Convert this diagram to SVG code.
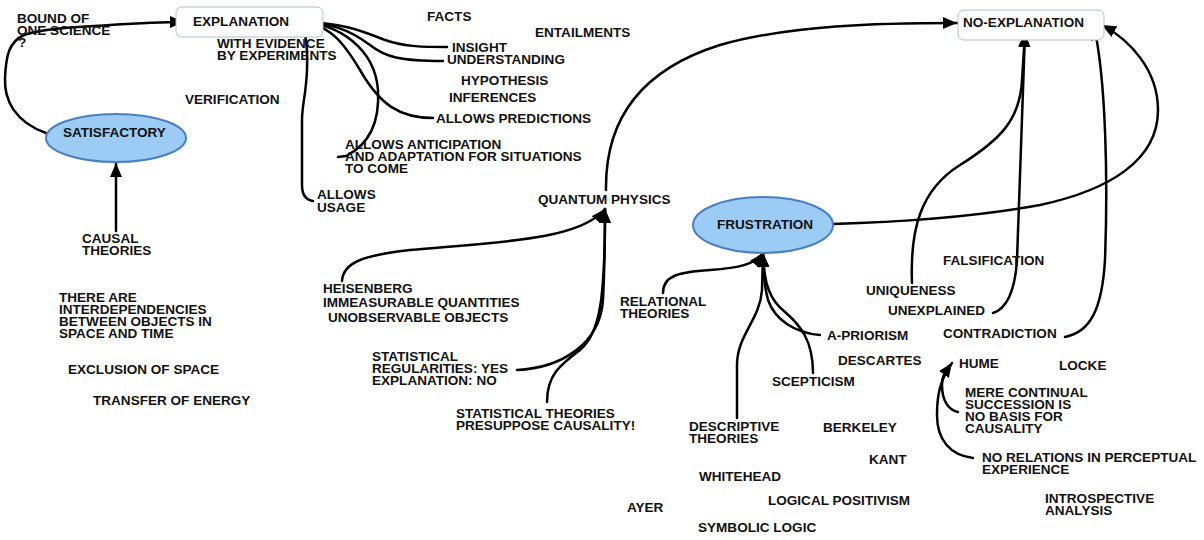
<svg xmlns="http://www.w3.org/2000/svg" width="1204" height="540" viewBox="0 0 1204 540">
<defs>
<style>
text{font-family:"Liberation Sans",Arial,sans-serif;font-weight:bold;font-size:12px;fill:#111;transform-box:fill-box;transform-origin:left center;transform:scaleX(1.13)}
.ell{fill:#9ccbf6;stroke:#4a80c2;stroke-width:2}
.box{fill:#fff;stroke:#a9c0d8;stroke-width:1}
.con{fill:none;stroke:#000;stroke-width:2.5;stroke-linecap:round}
.arr{marker-end:url(#ah)}
</style>
<marker id="ah" markerUnits="userSpaceOnUse" markerWidth="15" markerHeight="12" refX="14" refY="6" orient="auto">
<path d="M0,0 L14,6 L0,12 z" fill="#000"/>
</marker>
</defs>
<rect width="1204" height="540" fill="#fff"/>

<g id="connectors">
<path class="con arr" d="M46,133 C15,122 4,100 5,78 C6,55 9,42 24,35 C42,28 80,27 110,25 C140,23 160,22 184,22"/>
<path class="con arr" d="M116,231 L116,163"/>
<path class="con" d="M296,22 C340,22 360,30 385,40 C405,47 425,47 447,47"/>
<path class="con" d="M296,22 C330,22 350,30 370,45 C385,57 400,61 443,61"/>
<path class="con" d="M296,22 C330,22 345,45 360,70 C380,105 400,118 433,118"/>
<path class="con" d="M296,22 C340,22 375,50 378,90 C380,125 368,145 346,156 L338,157"/>
<path class="con" d="M296,22 C305,24 308,40 307,70 C306,95 302,105 302,120 L302,185 C302,195 306,200 313,201"/>
<path class="con arr" d="M606,190 C605,120 640,70 720,45 C790,25 880,23 957,23"/>
<path class="con arr" d="M342,281 C343,262 365,255 410,250 C500,242 580,240 605,209"/>
<path class="con arr" d="M517,370 C560,368 600,345 603,300 C605,260 605,230 605,209"/>
<path class="con arr" d="M547,402 C547,375 560,365 580,350 C600,333 605,300 605,209"/>
<path class="con arr" d="M663,293 C663,275 680,272 710,270 C740,268 755,264 763,253"/>
<path class="con arr" d="M737,418 L737,365 C737,335 760,320 762,290 L763,253"/>
<path class="con arr" d="M813,373 C813,340 800,325 785,312 C770,300 764,285 763,253"/>
<path class="con arr" d="M820,335 C795,333 775,320 768,300 C764,285 763,270 763,253"/>
<path class="con arr" d="M912,283 C910,230 920,190 960,165 C1000,140 1020,120 1022,80 L1025,33"/>
<path class="con arr" d="M993,313 C1008,308 1015,290 1017,260 L1025,33"/>
<path class="con arr" d="M1065,337 C1090,332 1102,310 1105,260 C1108,180 1106,80 1094,26"/>
<path class="con arr" d="M833,224 C900,222 980,216 1040,205 C1110,190 1158,160 1158,110 C1158,70 1130,40 1102,25"/>
<path class="con arr" d="M973,458 C950,455 937,440 937,415 C937,395 940,380 952,363"/>
<path class="con" d="M958,412 C948,410 942,400 942,385 C942,378 945,370 950,365"/>
</g>

<g id="explanation"><rect class="box" x="176" y="7" width="147" height="30" rx="6"/><text x="193" y="26">EXPLANATION</text></g>
<g id="no-explanation"><rect class="box" x="958" y="10" width="146" height="30" rx="6"/><text x="963" y="27">NO-EXPLANATION</text></g>
<g id="satisfactory"><ellipse class="ell" cx="116" cy="138" rx="70" ry="24"/><text x="63" y="137">SATISFACTORY</text></g>
<g id="frustration"><ellipse class="ell" cx="763" cy="225" rx="70" ry="28"/><text x="717" y="229">FRUSTRATION</text></g>

<g id="bound"><text x="17" y="23">BOUND OF</text><text x="17" y="35">ONE SCIENCE</text><text x="18" y="47">?</text></g>
<g id="with-evidence"><text x="217" y="48">WITH EVIDENCE</text><text x="217" y="60">BY EXPERIMENTS</text></g>
<g id="verification"><text x="185" y="104">VERIFICATION</text></g>
<g id="facts"><text x="427" y="21">FACTS</text></g>
<g id="entailments"><text x="535" y="37">ENTAILMENTS</text></g>
<g id="insight"><text x="452" y="52">INSIGHT</text></g>
<g id="understanding"><text x="447" y="64">UNDERSTANDING</text></g>
<g id="hypothesis"><text x="461" y="85">HYPOTHESIS</text></g>
<g id="inferences"><text x="449" y="102">INFERENCES</text></g>
<g id="predictions"><text x="436" y="123">ALLOWS PREDICTIONS</text></g>
<g id="anticipation"><text x="345" y="149">ALLOWS ANTICIPATION</text><text x="345" y="161">AND ADAPTATION FOR SITUATIONS</text><text x="345" y="173">TO COME</text></g>
<g id="usage"><text x="317" y="199">ALLOWS</text><text x="317" y="212">USAGE</text></g>
<g id="quantum"><text x="538" y="204">QUANTUM PHYSICS</text></g>
<g id="causal"><text x="82" y="243">CAUSAL</text><text x="82" y="255">THEORIES</text></g>
<g id="interdependencies"><text x="59" y="302">THERE ARE</text><text x="59" y="314">INTERDEPENDENCIES</text><text x="59" y="326">BETWEEN OBJECTS IN</text><text x="59" y="338">SPACE AND TIME</text></g>
<g id="exclusion"><text x="68" y="374">EXCLUSION OF SPACE</text></g>
<g id="transfer"><text x="93" y="405">TRANSFER OF ENERGY</text></g>
<g id="heisenberg"><text x="323" y="293">HEISENBERG</text><text x="323" y="307">IMMEASURABLE QUANTITIES</text><text x="328" y="322">UNOBSERVABLE OBJECTS</text></g>
<g id="statistical"><text x="372" y="361">STATISTICAL</text><text x="372" y="373">REGULARITIES: YES</text><text x="372" y="385">EXPLANATION: NO</text></g>
<g id="statistical-theories"><text x="456" y="418">STATISTICAL THEORIES</text><text x="456" y="430">PRESUPPOSE CAUSALITY!</text></g>
<g id="relational"><text x="620" y="306">RELATIONAL</text><text x="620" y="318">THEORIES</text></g>
<g id="a-priorism"><text x="827" y="340">A-PRIORISM</text></g>
<g id="descartes"><text x="838" y="365">DESCARTES</text></g>
<g id="scepticism"><text x="772" y="386">SCEPTICISM</text></g>
<g id="descriptive"><text x="689" y="431">DESCRIPTIVE</text><text x="689" y="443">THEORIES</text></g>
<g id="berkeley"><text x="823" y="432">BERKELEY</text></g>
<g id="kant"><text x="869" y="464">KANT</text></g>
<g id="whitehead"><text x="699" y="481">WHITEHEAD</text></g>
<g id="logical-positivism"><text x="768" y="505">LOGICAL POSITIVISM</text></g>
<g id="ayer"><text x="627" y="512">AYER</text></g>
<g id="symbolic-logic"><text x="698" y="532">SYMBOLIC LOGIC</text></g>
<g id="falsification"><text x="943" y="265">FALSIFICATION</text></g>
<g id="uniqueness"><text x="866" y="295">UNIQUENESS</text></g>
<g id="unexplained"><text x="888" y="315">UNEXPLAINED</text></g>
<g id="contradiction"><text x="943" y="338">CONTRADICTION</text></g>
<g id="hume"><text x="959" y="368">HUME</text></g>
<g id="locke"><text x="1059" y="370">LOCKE</text></g>
<g id="succession"><text x="965" y="397">MERE CONTINUAL</text><text x="965" y="409">SUCCESSION IS</text><text x="965" y="421">NO BASIS FOR</text><text x="965" y="433">CAUSALITY</text></g>
<g id="no-relations"><text x="982" y="462">NO RELATIONS IN PERCEPTUAL</text><text x="982" y="474">EXPERIENCE</text></g>
<g id="introspective"><text x="1045" y="503">INTROSPECTIVE</text><text x="1045" y="515">ANALYSIS</text></g>
</svg>
